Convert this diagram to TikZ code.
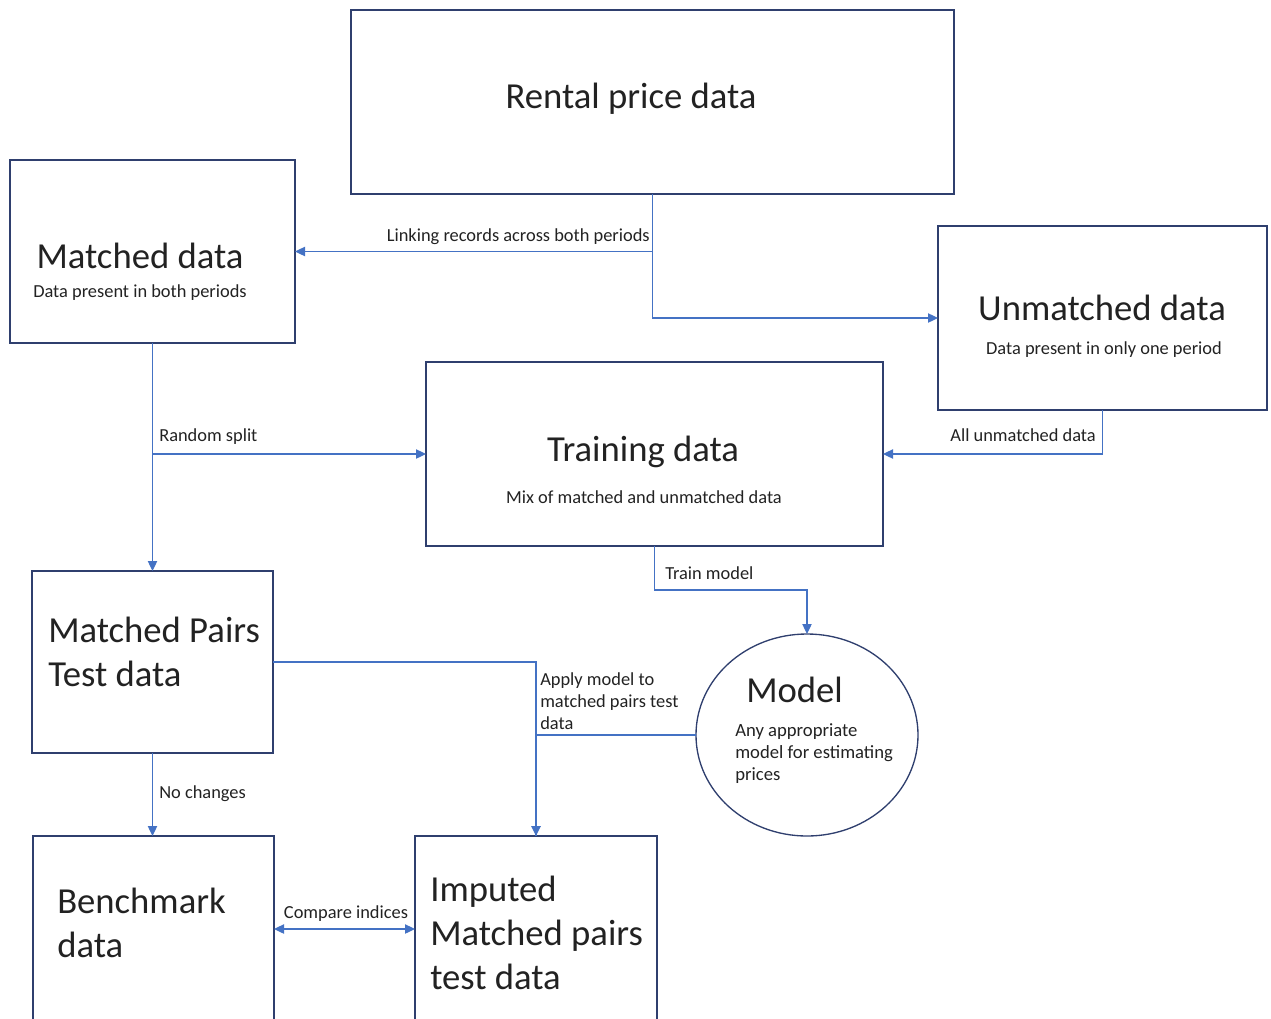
\documentclass[tikz,border=0pt]{standalone}
\usepackage{fontspec}
\setmainfont{Carlito}
\usetikzlibrary{arrows.meta,shapes.geometric}
\definecolor{boxc}{HTML}{2F3F6E}
\definecolor{linec}{HTML}{4472C4}
\definecolor{txt}{HTML}{222222}
\tikzset{
  box/.style={draw=boxc, line width=1pt, inner sep=0pt, outer sep=0pt},
  sz/.style 2 args={minimum width=#1*0.75pt, minimum height=#2*0.75pt},
  conn/.style={draw=linec, line width=0.9pt},
  tip/.style={-{Triangle[length=7.5pt,width=7pt]}},
  big/.style={text=txt, inner sep=0pt, font=\fontsize{27.5}{33}\selectfont, align=left},
  sub/.style={text=txt, inner sep=0pt, font=\fontsize{13.8}{16}\selectfont},
  lab/.style={text=txt, inner sep=0pt, font=\fontsize{13.8}{16.5}\selectfont, align=left},
}
\begin{document}
\begin{tikzpicture}[x=0.75pt,y=-0.75pt]
\useasboundingbox (0,0) rectangle (1271,1018);
\clip (0,0) rectangle (1271,1018);
% boxes
\node[box, sz={603}{184}] (rental) at (652.5,102) {};
\node[box, sz={285}{183}] (matched) at (152.5,251.5) {};
\node[box, sz={329}{184}] (unmatched) at (1102.5,318) {};
\node[box, sz={457}{184}] (training) at (654.5,454) {};
\node[box, sz={241}{182}] (mp) at (152.5,662) {};
\node[ellipse, box, sz={222}{202}] (model) at (807,735) {};
\node[box, sz={241}{300}] (bench) at (153.5,986) {};
\node[box, sz={242}{300}] (imp) at (536,986) {};
% texts
\node[big, anchor=center] (trental) at (631,99) {Rental price data};
\node[big, anchor=center] (tmatched) at (140,256) {Matched data};
\node[sub, anchor=center] (smatched) at (140,293) {Data present in both periods};
\node[big, anchor=center] (tunmatched) at (1102,308) {Unmatched data};
\node[sub, anchor=center] (sunmatched) at (1104,350) {Data present in only one period};
\node[big, anchor=center] (ttraining) at (643,452) {Training data};
\node[sub, anchor=center] (straining) at (644,497) {Mix of matched and unmatched data};
\node[big, anchor=north west] (tmp) at (48,617) {Matched Pairs\\Test data};
\node[big, anchor=north west] (tmodel) at (746,677) {Model};
\node[lab, anchor=north west, font=\fontsize{14}{16.5}\selectfont] (smodel) at (735,723) {Any appropriate\\model for estimating\\prices};
\node[big, anchor=north west] (tbench) at (57,888) {Benchmark\\data};
\node[big, anchor=north west] (timp) at (430,876) {Imputed\\Matched pairs\\test data};
% connectors
\draw[conn, tip] (rental.south) |- (matched.east);
\draw[conn, tip] (rental.south) |- (unmatched.west);
\draw[conn, tip] (matched.south) -- (mp.north);
\draw[conn, tip] (matched.south |- training.west) -- (training.west);
\draw[conn, tip] (unmatched.south) |- (training.east);
\coordinate (tm) at (654.5,590);
\draw[conn, tip] (training.south) -- (tm) -| (model.north);
\draw[conn] (mp.east) -| (imp.north);
\draw[conn, line width=1.6pt, tip] (imp.north |- model.west) -- (imp.north);
\draw[conn] (model.west) -- (imp.north |- model.west);
\draw[conn, tip] (mp.south) -- (mp.south |- bench.north);
\coordinate (cmpL) at (274,929);
\coordinate (cmpR) at (415,929);
\draw[conn, {Triangle[length=7.5pt,width=7pt]}-{Triangle[length=7.5pt,width=7pt]}] (cmpL) -- (cmpR);
% connector labels
\node[lab, anchor=south east] (llink) at (650,245) {Linking records across both periods};
\node[lab, anchor=west] (lrand) at (159,437) {Random split};
\node[lab, anchor=east] (lunm) at (1096,435) {All unmatched data};
\node[lab, anchor=west] (ltrain) at (665,573) {Train model};
\node[lab, anchor=north west] (lapply) at (540,672) {Apply model to\\matched pairs test\\data};
\node[lab, anchor=west] (lno) at (159,794) {No changes};
\node[lab, anchor=center] (lcmp) at (346,914) {Compare indices};
\end{tikzpicture}
\end{document}
